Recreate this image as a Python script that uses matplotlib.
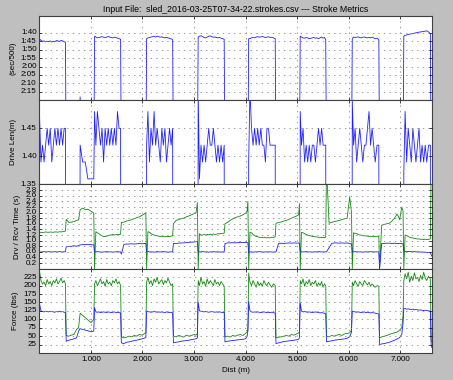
#!/usr/bin/python3

from matplotlib import pyplot as plt
from matplotlib.ticker import FuncFormatter, FixedLocator
import matplotlib

plt.style.use('classic')
matplotlib.rcParams['font.family'] = ['Liberation Sans', 'DejaVu Sans']
matplotlib.rcParams['font.size'] = 5.8

# --- per-stroke data (work / rest intervals) ---
dist = [
    0, 30, 60, 90, 120, 150, 180, 210, 240, 270, 300, 330, 360, 390, 420, 450, 480, 505,
    520, 570, 620, 670, 720, 760, 790, 840, 890, 940, 1000, 1055,
    1070, 1095, 1125, 1155, 1185, 1215, 1245, 1275, 1305, 1335, 1365, 1395, 1425, 1455, 1485, 1515, 1545, 1575,
    1590, 1640, 1690, 1740, 1790, 1840, 1890, 1940, 1990, 2035, 2065,
    2080, 2105, 2135, 2165, 2195, 2225, 2255, 2285, 2315, 2345, 2375, 2405, 2435, 2465, 2495, 2525, 2555, 2585,
    2600, 2650, 2700, 2750, 2800, 2850, 2900, 2950, 3000, 3040, 3065,
    3080, 3105, 3135, 3165, 3195, 3225, 3255, 3285, 3315, 3345, 3375, 3405, 3435, 3465, 3495, 3525, 3555, 3585,
    3600, 3650, 3700, 3750, 3800, 3850, 3900, 3950, 4000, 4030, 4045,
    4060, 4085, 4115, 4145, 4175, 4205, 4235, 4265, 4295, 4325, 4355, 4385, 4415, 4445, 4475, 4505, 4540, 4575,
    4590, 4640, 4690, 4740, 4790, 4840, 4890, 4940, 4990, 5030, 5045,
    5060, 5085, 5115, 5145, 5175, 5205, 5235, 5265, 5295, 5325, 5355, 5385, 5415, 5445, 5475, 5505, 5530, 5555,
    5570, 5620, 5670, 5720, 5770, 5820, 5870, 5920, 5970, 6020, 6055,
    6070, 6095, 6125, 6155, 6185, 6215, 6245, 6275, 6305, 6335, 6365, 6395, 6425, 6455, 6485, 6515, 6550, 6585,
    6600, 6640, 6690, 6740, 6790, 6840, 6890, 6940, 6990, 7030, 7055,
    7070, 7095, 7125, 7155, 7185, 7215, 7245, 7275, 7305, 7335, 7365, 7395, 7425, 7455, 7485, 7515, 7550, 7585,
    7600, 7610, 7620,
]

# pace in seconds per 500m
pace = [
    103.5, 104.5, 105, 104.8, 105.3, 105, 105.2, 104.8, 105.5, 105, 105.2, 104.6, 104.8, 105.2, 104.5, 104.8, 105.3, 105.5,
    180, 180, 180, 180, 180, 180, 138, 180, 180, 180, 180, 180,
    102, 102.5, 103, 102.8, 102.5, 102.3, 102.6, 102.8, 102.5, 102.2, 102.5, 102.8, 103, 102.6, 102.8, 103.2, 103.5, 103.8,
    180, 180, 180, 180, 180, 180, 180, 180, 180, 180, 180,
    103.5, 103, 102.8, 102.5, 102.3, 102.2, 102.5, 102, 102.3, 102.6, 102.4, 102.8, 103, 102.7, 103, 103.3, 103.6, 104,
    180, 180, 180, 180, 180, 180, 180, 180, 180, 180, 180,
    102.5, 102, 101.8, 102.2, 102.8, 103, 102.5, 102, 101.8, 102.3, 102.6, 102.5, 102.8, 103, 102.8, 103.2, 103.5, 103.8,
    180, 180, 180, 180, 180, 180, 180, 180, 180, 180, 180,
    103.5, 103.4, 103, 102.8, 103, 102.5, 102.3, 102.6, 102.4, 102.2, 102.5, 102.8, 102.6, 102.3, 102.8, 102.6, 103, 103.5,
    180, 180, 180, 180, 180, 180, 180, 180, 180, 180, 180,
    102, 102.5, 103, 103.2, 102.8, 103, 103.5, 103.2, 103, 102.8, 103.2, 103, 103.4, 103, 102.5, 103.2, 102.8, 104,
    180, 180, 180, 180, 180, 180, 180, 180, 180, 180, 180,
    103.5, 102.5, 102.8, 102.6, 102.4, 102.8, 103, 102.6, 102.5, 102.8, 103, 102.7, 103, 102.6, 103, 103.5, 103.2, 104,
    180, 180, 180, 180, 180, 180, 180, 180, 180, 180, 180,
    102, 101.5, 101.3, 101, 100.8, 100.6, 100.5, 100.2, 100, 99.8, 99.6, 99.5, 99.3, 99.2, 99, 98.8, 99.5, 100.5,
    180, 180, 180,
]

drive_len = [
    1.48, 1.39, 1.42, 1.39, 1.42, 1.45, 1.42, 1.45, 1.39, 1.42, 1.45, 1.42, 1.45, 1.42, 1.45, 1.42, 1.45, 1.45,
    0, 0, 0, 0, 0, 0, 1.42, 1.39, 1.39, 1.36, 1.36, 1.36,
    1.48, 1.42, 1.48, 1.45, 1.42, 1.45, 1.39, 1.45, 1.42, 1.45, 1.42, 1.45, 1.42, 1.45, 1.42, 1.48, 1.45, 1.45,
    0, 0, 0, 0, 0, 0, 0, 0, 0, 0, 0,
    1.42, 1.48, 1.39, 1.45, 1.42, 1.48, 1.42, 1.45, 1.42, 1.39, 1.45, 1.42, 1.45, 1.39, 1.42, 1.45, 1.42, 1.45,
    0, 0, 0, 0, 0, 0, 0, 0, 0, 0, 0,
    1.52, 1.36, 1.42, 1.39, 1.42, 1.39, 1.42, 1.45, 1.42, 1.42, 1.45, 1.42, 1.39, 1.42, 1.39, 1.42, 1.39, 1.42,
    0, 0, 0, 0, 0, 0, 0, 0, 0, 0, 0,
    1.39, 1.52, 1.45, 1.42, 1.45, 1.42, 1.45, 1.42, 1.45, 1.42, 1.42, 1.39, 1.45, 1.45, 1.42, 1.42, 1.42, 1.42,
    0, 0, 0, 0, 0, 0, 0, 0, 0, 0, 0,
    1.48, 1.42, 1.45, 1.39, 1.42, 1.39, 1.42, 1.39, 1.42, 1.42, 1.39, 1.42, 1.45, 1.42, 1.45, 1.42, 1.42, 1.42,
    0, 0, 0, 0, 0, 0, 0, 0, 0, 0, 0,
    1.50, 1.42, 1.45, 1.39, 1.42, 1.45, 1.42, 1.39, 1.42, 1.42, 1.45, 1.48, 1.42, 1.45, 1.42, 1.39, 1.42, 1.42,
    0, 0, 0, 0, 0, 0, 0, 0, 0, 0, 0,
    1.37, 1.48, 1.39, 1.45, 1.42, 1.39, 1.45, 1.42, 1.39, 1.42, 1.45, 1.39, 1.42, 1.39, 1.42, 1.39, 1.42, 1.42,
    0, 0, 0,
]

drive_time = [
    0.58, 0.6, 0.6, 0.61, 0.6, 0.6, 0.61, 0.6, 0.6, 0.6, 0.61, 0.6, 0.6, 0.61, 0.6, 0.6, 0.6, 0.61,
    0.78, 0.8, 0.8, 0.82, 0.8, 0.83, 0.85, 0.86, 0.86, 0.87, 0.86, 0.85,
    0.6, 0.6, 0.61, 0.6, 0.6, 0.59, 0.6, 0.6, 0.61, 0.6, 0.6, 0.6, 0.59, 0.6, 0.6, 0.61, 0.6, 0.6,
    0.52, 0.87, 0.88, 0.88, 0.89, 0.88, 0.89, 0.9, 0.89, 0.9, 0.9,
    0.6, 0.61, 0.6, 0.6, 0.6, 0.59, 0.6, 0.61, 0.6, 0.6, 0.6, 0.61, 0.6, 0.6, 0.59, 0.6, 0.6, 0.6,
    0.9, 0.9, 0.91, 0.92, 0.92, 0.93, 0.94, 0.95, 0.95, 0.96, 0.97,
    0.6, 0.6, 0.6, 0.61, 0.6, 0.6, 0.6, 0.59, 0.6, 0.6, 0.61, 0.6, 0.6, 0.6, 0.6, 0.59, 0.6, 0.6,
    0.9, 0.92, 0.92, 0.93, 0.92, 0.93, 0.94, 0.93, 0.94, 0.93, 0.92,
    0.58, 0.6, 0.6, 0.59, 0.6, 0.6, 0.6, 0.61, 0.6, 0.6, 0.59, 0.6, 0.6, 0.6, 0.6, 0.6, 0.59, 0.6,
    0.6, 0.9, 0.91, 0.9, 0.91, 0.92, 0.91, 0.92, 0.91, 0.92, 0.9,
    0.6, 0.6, 0.6, 0.6, 0.61, 0.6, 0.6, 0.6, 0.59, 0.6, 0.6, 0.6, 0.61, 0.6, 0.6, 0.6, 0.6, 0.6,
    0.6, 0.75, 0.9, 0.92, 0.92, 0.91, 0.92, 0.91, 0.92, 0.9, 0.88,
    0.6, 0.6, 0.61, 0.6, 0.6, 0.6, 0.6, 0.59, 0.6, 0.6, 0.6, 0.6, 0.61, 0.6, 0.6, 0.6, 0.6, 0.6,
    0, 0.9, 0.9, 0.91, 0.91, 0.9, 0.91, 0.9, 0.9, 0.9, 0.88,
    0.62, 0.62, 0.61, 0.62, 0.61, 0.61, 0.6, 0.61, 0.6, 0.6, 0.6, 0.59, 0.6, 0.59, 0.59, 0.58, 0.58, 0.58,
    0.5, 0.46, 0.44,
]

rec_time = [
    1.28, 1.3, 1.29, 1.3, 1.31, 1.3, 1.3, 1.31, 1.3, 1.3, 1.31, 1.31, 1.3, 1.32, 1.31, 1.32, 1.33, 1.34,
    1.76, 1.65, 1.66, 1.68, 1.72, 1.74, 2.1, 2.16, 2.1, 2.12, 2.05, 1.98,
    0, 1.32, 1.28, 1.25, 1.2, 1.17, 1.15, 1.15, 1.16, 1.18, 1.2, 1.2, 1.22, 1.2, 1.22, 1.21, 1.22, 1.23,
    1.65, 1.66, 1.7, 1.72, 1.75, 1.78, 1.82, 1.85, 1.9, 1.95, 2.0,
    0, 1.32, 1.3, 1.25, 1.22, 1.2, 1.18, 1.17, 1.16, 1.15, 1.16, 1.15, 1.14, 1.15, 1.15, 1.14, 1.16, 1.18,
    1.6, 1.72, 1.75, 1.78, 1.8, 1.85, 1.88, 1.92, 1.96, 2.0, 2.35,
    0, 1.25, 1.2, 1.2, 1.22, 1.2, 1.22, 1.21, 1.23, 1.22, 1.24, 1.22, 1.23, 1.25, 1.24, 1.26, 1.25, 1.27,
    1.6, 1.65, 1.72, 1.78, 1.82, 1.85, 1.88, 1.92, 1.98, 2.05, 2.4,
    0, 1.3, 1.28, 1.22, 1.18, 1.15, 1.14, 1.12, 1.12, 1.11, 1.12, 1.11, 1.1, 1.11, 1.1, 1.12, 1.12, 1.13,
    1.62, 1.65, 1.66, 1.7, 1.72, 1.76, 1.8, 1.84, 1.88, 1.92, 2.32,
    0, 1.3, 1.28, 1.25, 1.22, 1.2, 1.18, 1.17, 1.15, 1.15, 1.14, 1.13, 1.12, 1.12, 1.11, 1.12, 1.11, 1.12,
    3.6, 1.62, 1.65, 1.68, 1.7, 1.72, 1.75, 1.78, 1.8, 2.55, 2.0,
    0, 1.28, 1.26, 1.25, 1.22, 1.2, 1.2, 1.18, 1.17, 1.17, 1.16, 1.15, 1.16, 1.15, 1.14, 1.15, 1.16, 1.15,
    0, 1.55, 1.58, 1.6, 1.62, 1.7, 1.8, 1.95, 1.75, 2.2, 2.05,
    0, 1.2, 1.18, 1.15, 1.12, 1.1, 1.1, 1.08, 1.07, 1.06, 1.06, 1.05, 1.05, 1.04, 1.05, 1.04, 1.05, 1.06,
    3.6, 3.6, 3.6,
]

peak_force = [
    245, 215, 205, 210, 200, 218, 205, 212, 200, 215, 208, 220, 205, 212, 222, 208, 215, 205,
    52, 50, 53, 55, 70, 75, 118, 112, 105, 98, 90, 100,
    205, 215, 200, 210, 220, 205, 212, 198, 218, 205, 210, 200, 215, 208, 220, 205, 212, 200,
    48, 45, 47, 50, 48, 52, 50, 55, 53, 57, 60,
    210, 225, 205, 215, 200, 220, 210, 225, 205, 212, 218, 203, 215, 208, 222, 210, 200, 205,
    50, 48, 52, 50, 47, 53, 50, 52, 55, 53, 58,
    215, 200, 225, 205, 212, 198, 220, 205, 215, 208, 200, 218, 205, 210, 200, 212, 205, 198,
    48, 50, 47, 52, 50, 53, 55, 52, 58, 62, 72,
    237, 210, 200, 215, 205, 195, 212, 200, 208, 198, 215, 205, 200, 210, 202, 195, 205, 200,
    45, 47, 48, 50, 52, 50, 55, 53, 57, 60, 62,
    215, 205, 220, 198, 212, 205, 218, 200, 210, 205, 215, 198, 208, 200, 212, 195, 205, 200,
    50, 48, 52, 50, 53, 55, 52, 57, 58, 60, 68,
    210, 200, 215, 205, 198, 212, 205, 200, 215, 208, 202, 210, 198, 205, 200, 195, 200, 198,
    45, 48, 50, 52, 55, 58, 60, 62, 68, 75, 110,
    215, 235, 220, 240, 210, 228, 215, 238, 220, 225, 212, 230, 218, 240, 222, 215, 228, 220,
    40, 35, 30,
]

avg_force = [
    148, 125, 123, 122, 124, 123, 122, 124, 123, 122, 121, 123, 122, 124, 122, 123, 121, 120,
    35, 38, 40, 42, 45, 65, 72, 70, 68, 66, 63, 65,
    135, 122, 121, 122, 120, 121, 122, 121, 120, 122, 121, 120, 121, 122, 120, 121, 120, 119,
    30, 28, 32, 33, 35, 37, 38, 40, 42, 44, 46,
    125, 123, 122, 121, 122, 123, 122, 121, 122, 121, 122, 121, 120, 122, 121, 120, 121, 119,
    30, 32, 33, 35, 36, 37, 38, 40, 41, 42, 45,
    150, 125, 124, 123, 122, 123, 122, 121, 122, 123, 122, 121, 122, 121, 122, 121, 120, 120,
    33, 35, 36, 37, 38, 39, 40, 41, 42, 50, 65,
    153, 125, 122, 121, 122, 121, 122, 121, 120, 121, 122, 121, 120, 121, 120, 121, 120, 118,
    28, 30, 32, 34, 35, 36, 37, 38, 39, 41, 45,
    148, 124, 122, 123, 122, 121, 122, 121, 120, 121, 122, 121, 120, 119, 120, 119, 118, 116,
    33, 35, 36, 38, 39, 40, 41, 42, 44, 48, 62,
    124, 123, 122, 121, 122, 121, 120, 121, 122, 120, 121, 120, 119, 120, 119, 118, 117, 116,
    25, 27, 28, 30, 32, 35, 38, 42, 46, 55, 88,
    133, 132, 130, 131, 130, 129, 130, 128, 129, 128, 127, 128, 127, 126, 127, 126, 125, 124,
    25, 18, 15,
]

pace_ticks = [100, 105, 110, 115, 120, 125, 130, 135]
len_ticks = [1.35, 1.40, 1.45]
time_ticks = [0.2, 0.4, 0.6, 0.8, 1.0, 1.2, 1.4, 1.6, 1.8, 2.0, 2.2, 2.4, 2.6, 2.8]
force_ticks = [25, 50, 75, 100, 125, 150, 175, 200, 225]
dist_ticks = [1000, 2000, 3000, 4000, 5000, 6000, 7000]

fig, ax = plt.subplots(4, 1, sharex=True, figsize=(4.53, 3.8), dpi=100)
fig.patch.set_facecolor('0.75')
plt.subplots_adjust(left=0.087, right=0.954, top=0.958, bottom=0.071, hspace=0)

lw = 0.6
ax[0].plot(dist, pace, color='#2020ff', lw=lw)
ax[1].plot(dist, drive_len, color='#2020ff', lw=lw)
ax[2].plot(dist, rec_time, color='#108a10', lw=lw)
ax[2].plot(dist, drive_time, color='#2020ff', lw=lw)
ax[3].plot(dist, peak_force, color='#108a10', lw=lw)
ax[3].plot(dist, avg_force, color='#2020ff', lw=lw)

ax[0].set_ylim(140, 90)
ax[0].yaxis.set_major_locator(FixedLocator(pace_ticks))
ax[0].yaxis.set_major_formatter(FuncFormatter(lambda v, p: '%d:%02d' % (v // 60, v % 60)))
ax[0].set_ylabel('(sec/500)')
ax[0].set_title('Input File:  sled_2016-03-25T07-34-22.strokes.csv --- Stroke Metrics',
                fontsize=6.3, pad=3)

ax[1].set_ylim(1.35, 1.50)
ax[1].yaxis.set_major_locator(FixedLocator(len_ticks))
ax[1].yaxis.set_major_formatter(FuncFormatter(lambda v, p: '%.2f' % v))
ax[1].set_ylabel('Drive Len(m)')

ax[2].set_ylim(0, 3.0)
ax[2].yaxis.set_major_locator(FixedLocator(time_ticks))
ax[2].yaxis.set_major_formatter(FuncFormatter(lambda v, p: '%.1f' % v))
ax[2].set_ylabel('Drv / Rcv Time (s)')

ax[3].set_ylim(0, 250)
ax[3].yaxis.set_major_locator(FixedLocator(force_ticks))
ax[3].set_ylabel('Force (lbs)')

ax[3].set_xlim(0, 7620)
ax[3].xaxis.set_major_locator(FixedLocator(dist_ticks))
ax[3].xaxis.set_major_formatter(FuncFormatter(lambda v, p: '%d.%03d' % (v // 1000, v % 1000)))
ax[3].set_xlabel('Dist (m)', labelpad=3)

for a in ax:
    a.grid(True, color='0.55', linestyle=':', linewidth=0.6)
    a.tick_params(labelsize=5.8, length=2.5, width=0.5, pad=2)
    a.yaxis.labelpad = 3
    for s in a.spines.values():
        s.set_linewidth(0.8)
        s.set_color('0.25')

plt.savefig('out.png', dpi=100, facecolor=fig.get_facecolor())
